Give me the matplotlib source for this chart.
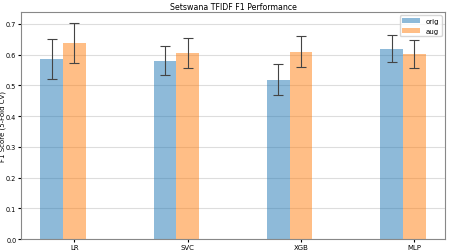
import numpy as np
import matplotlib
matplotlib.use("Agg")
import matplotlib.pyplot as plt

models = ["LR", "SVC", "XGB", "MLP"]
orig_mean = [0.587, 0.581, 0.519, 0.620]
orig_err = [0.065, 0.047, 0.051, 0.045]
aug_mean = [0.639, 0.606, 0.610, 0.603]
aug_err = [0.065, 0.048, 0.051, 0.045]

fig = plt.figure(figsize=(4.5, 2.53), dpi=100)
ax = fig.add_axes([0.047, 0.051, 0.942, 0.898])
x = np.arange(len(models))
w = 0.2
ekw = dict(elinewidth=0.8, capthick=0.8, ecolor="#444444")
ax.bar(x - w, orig_mean, w, yerr=orig_err, color="#1f77b4", alpha=0.5,
       capsize=3.5, error_kw=ekw, label="orig", zorder=2)
ax.bar(x, aug_mean, w, yerr=aug_err, color="#ff7f0e", alpha=0.5,
       capsize=3.5, error_kw=ekw, label="aug", zorder=2)
ax.set_xticks(x)
ax.set_xticklabels(models, fontsize=5)
ax.tick_params(axis="y", labelsize=4.7, length=2, pad=1.5)
ax.tick_params(axis="x", length=2, pad=1.5)
ax.yaxis.grid(True, color="#dddddd", linewidth=0.8, zorder=0)
ax.set_axisbelow(True)
ax.set_ylabel("F1 Score (5-Fold CV)", fontsize=5)
ax.yaxis.set_label_coords(-0.036, 0.5)
ax.set_title("Setswana TFIDF F1 Performance", fontsize=5.7, pad=2)
for s in ax.spines.values():
    s.set_color("#888888")
    s.set_linewidth(0.8)
ax.legend(fontsize=5, loc="upper right", framealpha=0.8, edgecolor="#cccccc",
          handlelength=2.5)
fig.savefig("out.png", dpi=100)
